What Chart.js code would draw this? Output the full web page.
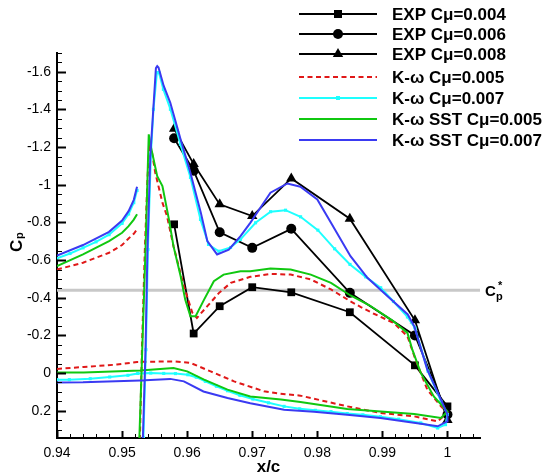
<!DOCTYPE html>
<html>
<head>
<meta charset="utf-8">
<script src="https://cdn.jsdelivr.net/npm/chart.js@4.4.1/dist/chart.umd.min.js"></script>
<style>
html,body{margin:0;padding:0;background:#fff;}
canvas{display:block;}
</style>
</head>
<body>
<canvas id="c" width="543" height="475"></canvas>
<script>
// ---------- data ----------
const xTickVals = [0.94, 0.95, 0.96, 0.97, 0.98, 0.99, 1.0];
const xTickLabels = ["0.94", "0.95", "0.96", "0.97", "0.98", "0.99", "1"];
const yTickVals = [-1.6, -1.4, -1.2, -1.0, -0.8, -0.6, -0.4, -0.2, 0, 0.2];
const yTickLabels = ["-1.6", "-1.4", "-1.2", "-1", "-0.8", "-0.6", "-0.4", "-0.2", "0", "0.2"];

const cpStar = -0.44;

// experiment
const expX = [0.958, 0.961, 0.965, 0.970, 0.976, 0.985, 0.995, 1.0];
const exp004 = [-0.79, -0.21, -0.355, -0.456, -0.429, -0.323, -0.041, 0.177];
const exp006 = [-1.247, -1.075, -0.748, -0.665, -0.766, -0.426, -0.20, 0.22];
const exp008 = [-1.298, -1.11, -0.896, -0.834, -1.034, -0.82, -0.28, 0.25];

// K-omega Cmu=0.005 (red)
const redUpX = [0.94, 0.944, 0.948, 0.950, 0.951, 0.9518, 0.9523];
const redUpY = [-0.550, -0.586, -0.639, -0.68, -0.715, -0.74, -0.763];
const redX = [0.94, 0.9441, 0.9492, 0.9523, 0.9579, 0.9605, 0.9636, 0.9672, 0.9718, 0.9743, 0.9774, 0.9846, 0.9897, 0.9949, 0.9985, 1.0,
  0.999, 0.9969, 0.9951, 0.99385, 0.9918, 0.9887, 0.9867, 0.9851, 0.9821, 0.9790, 0.9759, 0.9728, 0.9697, 0.9667, 0.9649, 0.9631, 0.9615, 0.9608, 0.9595, 0.9579, 0.9569, 0.9562, 0.9551, 0.9546, 0.9542, 0.9539, 0.9535, 0.95305, 0.95274, 0.95266];
const redY = [-0.022, -0.032, -0.045, -0.059, -0.062, -0.054, -0.009, 0.044, 0.097, 0.11, 0.12, 0.177, 0.212, 0.230, 0.257, 0.21,
  0.177, 0.088, -0.071, -0.195, -0.265, -0.315, -0.35, -0.381, -0.444, -0.497, -0.523, -0.527, -0.511, -0.479, -0.426, -0.355, -0.293, -0.320, -0.461, -0.674, -0.834, -0.905, -1.064, -1.171, -1.22, -1.029, -0.656, -0.124, 0.344, 0.6];

// K-omega Cmu=0.007 (cyan)
const cyanUpX = [0.94, 0.942, 0.944, 0.946, 0.948, 0.950, 0.951, 0.9518, 0.9523];
const cyanUpY = [-0.61, -0.635, -0.665, -0.697, -0.735, -0.795, -0.845, -0.905, -0.97];
const cyanX = [0.94, 0.9419, 0.9451, 0.9481, 0.9509, 0.9524, 0.9544, 0.9564, 0.9582, 0.9601, 0.9614, 0.9628, 0.9645, 0.9662, 0.9681, 0.9701, 0.9725, 0.9749, 0.9773, 0.9797, 0.9821, 0.9846, 0.9870, 0.9897, 0.9925, 0.9959, 0.9985, 0.9997, 1.0,
  0.999, 0.9970, 0.9950, 0.99385, 0.9917, 0.98974, 0.98743, 0.98502, 0.98266, 0.98009, 0.97743, 0.97512, 0.97282, 0.97051, 0.9682, 0.96667, 0.96486, 0.96328, 0.96205, 0.96051, 0.95897, 0.95743, 0.95635, 0.95566, 0.95535, 0.95482, 0.95443, 0.95397, 0.95366, 0.95328, 0.9532];
const cyanY = [0.035, 0.035, 0.030, 0.021, 0.012, 0.002, 0.0, 0.002, 0.003, 0.009, 0.022, 0.044, 0.07, 0.094, 0.118, 0.138, 0.158, 0.177, 0.19, 0.198, 0.205, 0.215, 0.222, 0.232, 0.245, 0.265, 0.292, 0.274, 0.22,
  0.15, -0.01, -0.24, -0.298, -0.38, -0.453, -0.511, -0.577, -0.660, -0.759, -0.830, -0.865, -0.857, -0.798, -0.710, -0.667, -0.647, -0.683, -0.816, -1.039, -1.215, -1.401, -1.507, -1.596, -1.596, -1.401, -1.162, -0.656, -0.124, 0.344, 0.6];

// K-omega SST Cmu=0.005 (green)
const greenUpX = [0.94, 0.944, 0.948, 0.950, 0.951, 0.9518, 0.9523];
const greenUpY = [-0.568, -0.630, -0.701, -0.745, -0.78, -0.815, -0.843];
const greenX = [0.94, 0.9441, 0.9528, 0.9579, 0.9600, 0.9626, 0.9662, 0.9697, 0.9744, 0.9774, 0.9846, 0.9949, 0.9990, 1.0,
  0.9979, 0.9959, 0.9946, 0.99385, 0.9915, 0.9880, 0.9851, 0.9821, 0.9790, 0.9759, 0.9728, 0.9697, 0.9682, 0.9656, 0.9641, 0.9626, 0.9613, 0.9605, 0.9597, 0.9590, 0.9579, 0.9572, 0.9562, 0.9554, 0.9544, 0.9541, 0.9539, 0.9536, 0.9531, 0.95266, 0.95258];
const greenY = [-0.003, -0.003, -0.014, -0.027, -0.009, 0.035, 0.088, 0.124, 0.141, 0.154, 0.191, 0.218, 0.239, 0.204,
  0.124, -0.001, -0.124, -0.213, -0.28, -0.36, -0.412, -0.479, -0.523, -0.550, -0.555, -0.541, -0.541, -0.523, -0.488, -0.390, -0.302, -0.302, -0.390, -0.514, -0.674, -0.816, -0.993, -1.046, -1.206, -1.268, -1.029, -0.656, -0.124, 0.344, 0.6];

// K-omega SST Cmu=0.007 (blue)
const blueUpX = [0.94, 0.944, 0.948, 0.950, 0.951, 0.9518, 0.9523];
const blueUpY = [-0.624, -0.68, -0.75, -0.81, -0.86, -0.92, -0.99];
const blueX = [0.94, 0.944, 0.9528, 0.9574, 0.9595, 0.9625, 0.9662, 0.9697, 0.9749, 0.9795, 0.9846, 0.9897, 0.9959, 0.9985, 0.99995, 1.0,
  0.999, 0.9969, 0.9949, 0.9939, 0.9908, 0.9877, 0.9851, 0.9821, 0.9800, 0.9774, 0.9754, 0.9728, 0.9697, 0.9682, 0.9664, 0.9646, 0.9631, 0.9621, 0.9605, 0.9590, 0.9574, 0.9564, 0.9556, 0.9554, 0.9552, 0.9547, 0.95435, 0.9539, 0.9536, 0.9532, 0.9531];
const blueY = [0.05, 0.049, 0.039, 0.031, 0.044, 0.098, 0.133, 0.160, 0.195, 0.205, 0.221, 0.239, 0.269, 0.283, 0.257, 0.22,
  0.141, -0.018, -0.248, -0.311, -0.408, -0.506, -0.621, -0.798, -0.922, -0.990, -1.007, -0.958, -0.798, -0.727, -0.656, -0.630, -0.701, -0.852, -1.064, -1.241, -1.437, -1.525, -1.623, -1.63, -1.62, -1.348, -1.162, -0.656, -0.124, 0.344, 0.6];

const legendLabels = ["EXP C\u03bc=0.004", "EXP C\u03bc=0.006", "EXP C\u03bc=0.008", "K-\u03c9 C\u03bc=0.005", "K-\u03c9 C\u03bc=0.007", "K-\u03c9 SST C\u03bc=0.005", "K-\u03c9 SST C\u03bc=0.007"];

// ---------- build ----------
const zip = (xs, ys) => xs.map((x, i) => ({x: x, y: ys[i]}));
const RED = '#e01818', CYAN = '#1effff', GREEN = '#10c810', BLUE = '#3a3af2';
const FONT = "'Liberation Sans', Arial, Helvetica, sans-serif";

function lineDs(data, color, extra) {
  return Object.assign({
    data: data, showLine: true, borderColor: color, backgroundColor: color,
    borderWidth: 2, pointRadius: 0, tension: 0, fill: false
  }, extra || {});
}
const cyanPts = {pointRadius: 2.2, pointStyle: 'rect', pointBorderWidth: 0, pointBackgroundColor: CYAN};

const datasets = [
  lineDs(zip(blueX, blueY), BLUE),
  lineDs(zip(blueUpX, blueUpY), BLUE),
  lineDs(zip(greenX, greenY), GREEN),
  lineDs(zip(greenUpX, greenUpY), GREEN),
  lineDs(zip(cyanX, cyanY), CYAN, cyanPts),
  lineDs(zip(cyanUpX, cyanUpY), CYAN, cyanPts),
  lineDs(zip(redX, redY), RED, {borderDash: [5, 3.5]}),
  lineDs(zip(redUpX, redUpY), RED, {borderDash: [5, 3.5]}),
  lineDs(zip(expX, exp008), '#000', {borderWidth: 1.8, pointRadius: 6, pointStyle: 'triangle', pointBackgroundColor: '#000', pointBorderWidth: 0}),
  lineDs(zip(expX, exp006), '#000', {borderWidth: 1.8, pointRadius: 5, pointStyle: 'circle', pointBackgroundColor: '#000', pointBorderWidth: 0}),
  lineDs(zip(expX, exp004), '#000', {borderWidth: 1.8, pointRadius: 5.5, pointStyle: 'rect', pointBackgroundColor: '#000', pointBorderWidth: 0}),
  lineDs([{x: 0.94, y: cpStar}, {x: 1.005, y: cpStar}], '#c8c8c8', {borderWidth: 3})
];

function marker(ctx, type, x, y) {
  ctx.beginPath();
  if (type === 'rect') { ctx.rect(x - 4, y - 4, 8, 8); }
  else if (type === 'circle') { ctx.arc(x, y, 5, 0, Math.PI * 2); }
  else if (type === 'triangle') { ctx.moveTo(x, y - 6); ctx.lineTo(x + 5.2, y + 3); ctx.lineTo(x - 5.2, y + 3); ctx.closePath(); }
  else if (type === 'small') { ctx.rect(x - 2, y - 2, 4, 4); }
  ctx.fill();
}

const decor = {
  id: 'decor',
  afterDraw(chart) {
    const ctx = chart.ctx;
    const xs = chart.scales.x, ys = chart.scales.y;
    const a = chart.chartArea;
    ctx.save();
    ctx.strokeStyle = '#000';
    ctx.lineWidth = 1;
    // y ticks (inside)
    for (let v = -1.7; v <= 0.3451; v += 0.05) {
      const vv = Math.round(v * 100) / 100;
      const major = Math.abs(Math.round(vv * 5) - vv * 5) < 1e-6;
      const py = Math.round(ys.getPixelForValue(vv)) + 0.5;
      ctx.lineWidth = major ? 2 : 1;
      ctx.beginPath(); ctx.moveTo(a.left, py); ctx.lineTo(a.left + (major ? 9 : 5), py); ctx.stroke();
    }
    // x ticks (inside)
    for (let i = 0; i <= 32; i++) {
      const vv = 0.94 + i * 0.002;
      const major = i % 5 === 0;
      const px = Math.round(xs.getPixelForValue(vv)) + 0.5;
      ctx.lineWidth = major ? 2 : 1;
      ctx.beginPath(); ctx.moveTo(px, a.bottom); ctx.lineTo(px, a.bottom - (major ? 7 : 4)); ctx.stroke();
    }
    ctx.fillStyle = '#000';
    // axis titles
    ctx.textBaseline = 'alphabetic';
    ctx.textAlign = 'left';
    ctx.save();
    ctx.translate(22, 252);
    ctx.rotate(-Math.PI / 2);
    ctx.font = 'bold 17px ' + FONT;
    ctx.fillText('C', 0, 0);
    ctx.font = 'bold 11px ' + FONT;
    ctx.fillText('p', 13, 1);
    ctx.restore();
    ctx.textAlign = 'center';
    ctx.font = 'bold 17px ' + FONT;
    ctx.fillText('x/c', (a.left + a.right) / 2 + 0, 472);
    // Cp* label
    const cy = ys.getPixelForValue(cpStar);
    ctx.textAlign = 'left';
    ctx.font = 'bold 15px ' + FONT;
    ctx.fillText('C', 485, cy + 6);
    ctx.font = 'bold 11px ' + FONT;
    ctx.fillText('p', 496, cy + 10);
    ctx.fillText('*', 498, cy - 1);
    // legend
    const rows = [14, 34, 54, 77, 98, 119, 140];
    const styles = [
      {c: '#000', m: 'rect'}, {c: '#000', m: 'circle'}, {c: '#000', m: 'triangle'},
      {c: RED, dash: [5, 3.5]}, {c: CYAN, m: 'small'}, {c: GREEN}, {c: BLUE}
    ];
    ctx.font = 'bold 17px ' + FONT;
    ctx.textBaseline = 'middle';
    rows.forEach((ry, i) => {
      const s = styles[i];
      ctx.strokeStyle = s.c; ctx.fillStyle = s.c;
      ctx.lineWidth = 2;
      ctx.setLineDash(s.dash || []);
      ctx.beginPath(); ctx.moveTo(299, ry); ctx.lineTo(377, ry); ctx.stroke();
      ctx.setLineDash([]);
      if (s.m) marker(ctx, s.m, 338, ry);
      ctx.fillStyle = '#000';
      ctx.fillText(legendLabels[i], 392, ry + 1);
    });
    ctx.restore();
  }
};

new Chart(document.getElementById('c'), {
  type: 'scatter',
  data: {datasets: datasets},
  plugins: [decor],
  options: {
    responsive: false,
    animation: false,
    devicePixelRatio: 1,
    layout: {padding: {top: 53, right: 63, left: 0, bottom: 0}},
    plugins: {legend: {display: false}, tooltip: {enabled: false}},
    elements: {line: {tension: 0}},
    scales: {
      x: {
        type: 'linear', min: 0.94, max: 1.005,
        grid: {display: false, drawTicks: false},
        border: {display: true, color: '#000', width: 2},
        ticks: {color: '#000', font: {family: FONT, size: 14}, padding: 7, autoSkip: false, maxRotation: 0,
          callback: (v, i) => xTickLabels[i]},
        afterBuildTicks: s => { s.ticks = xTickVals.map(v => ({value: v})); },
        afterFit: s => { s.height = 37; }
      },
      y: {
        type: 'linear', min: -1.7, max: 0.345, reverse: true,
        grid: {display: false, drawTicks: false},
        border: {display: true, color: '#000', width: 2},
        ticks: {color: '#000', font: {family: FONT, size: 14}, padding: 6, autoSkip: false,
          callback: (v, i) => yTickLabels[i]},
        afterBuildTicks: s => { s.ticks = yTickVals.map(v => ({value: v})); },
        afterFit: s => { s.width = 57; }
      }
    }
  }
});
</script>
</body>
</html>
